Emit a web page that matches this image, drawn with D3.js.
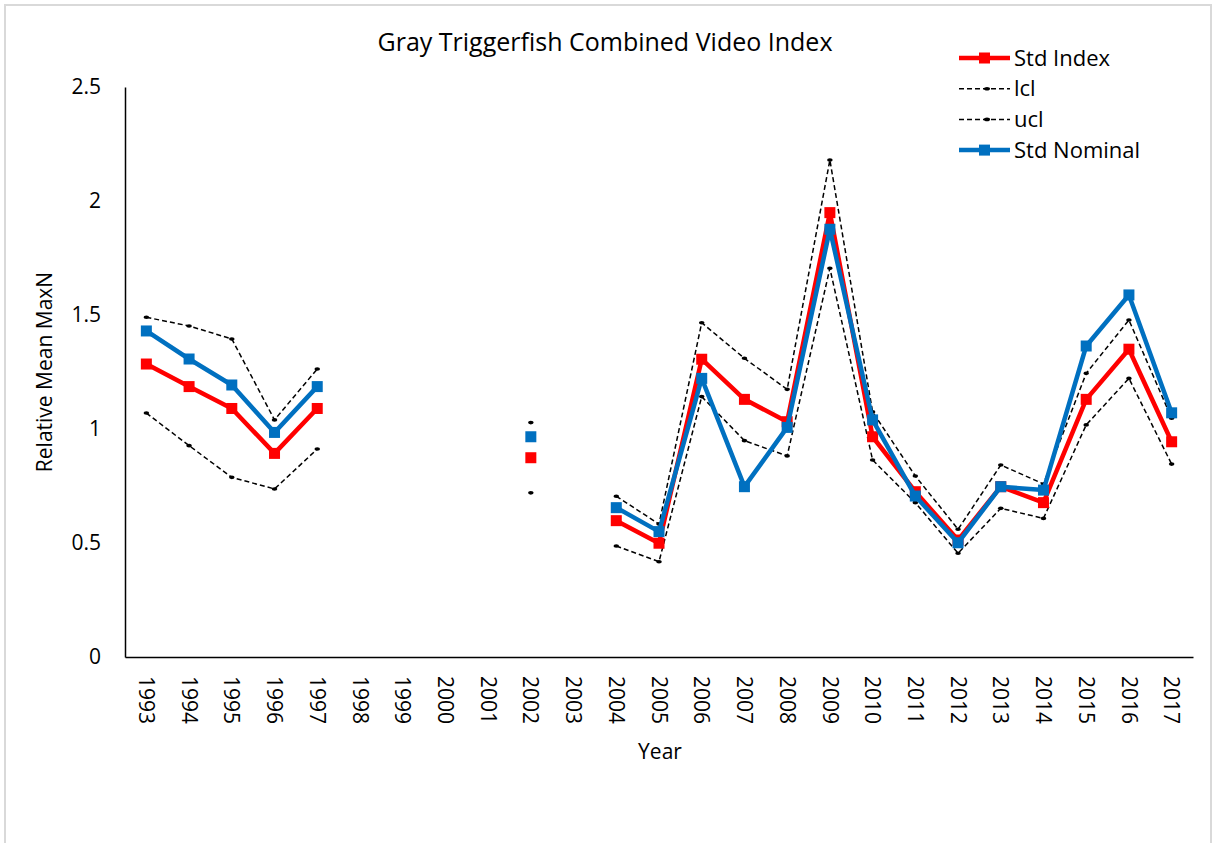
<!DOCTYPE html>
<html>
<head>
<meta charset="utf-8">
<script src="https://cdn.jsdelivr.net/npm/d3@7"></script>
<style>
  body { margin: 0; background: #fff; }
  text { font-family: "Open Sans", "Noto Sans", sans-serif; fill: #000; }
</style>
</head>
<body>
<svg id="chart" width="1215" height="843"></svg>
<script>
// years on the axis (1998-2001 and 2003 have no data)
var years = [1993,1994,1995,1996,1997,1998,1999,2000,2001,2002,2003,2004,2005,2006,2007,2008,2009,2010,2011,2012,2013,2014,2015,2016,2017];

// null = no survey that year
var stdIndex   = [1.285,1.186,1.09,0.893,1.09,null,null,null,null,0.874,null,0.598,0.499,1.306,1.13,1.032,1.949,0.966,0.725,0.513,0.747,0.677,1.13,1.35,0.944];
var lcl        = [1.07,0.927,0.788,0.737,0.912,null,null,null,null,0.72,null,0.487,0.418,1.142,0.949,0.882,1.705,0.864,0.677,0.455,0.652,0.608,1.018,1.222,0.846];
var ucl        = [1.49,1.452,1.395,1.04,1.263,null,null,null,null,1.028,null,0.705,0.583,1.466,1.31,1.174,2.18,1.075,0.794,0.56,0.842,0.759,1.244,1.478,1.047];
var stdNominal = [1.43,1.307,1.193,0.985,1.186,null,null,null,null,0.966,null,0.655,0.55,1.222,0.747,1.007,1.876,1.04,0.706,0.501,0.747,0.732,1.364,1.588,1.071];

var yTicks = [0,0.5,1,1.5,2,2.5];

const svg = d3.select("#chart");

// chart frame (excel chart area border)
svg.append("rect")
   .attr("x", 5).attr("y", 5)
   .attr("width", 1206).attr("height", 850)
   .attr("fill", "none")
   .attr("stroke", "#d9d9d9")
   .attr("stroke-width", 2)

const plotLeft = 125, plotRight = 1193, plotTop = 87, plotBottom = 657;

const x = d3.scaleBand()
   .domain(years)
   .range([plotLeft, plotRight])

const y = d3.scaleLinear()
   .domain([0, 2.5])
   .range([plotBottom, plotTop])

const cx = d => x(d) + x.bandwidth()/2;

// axes
const yAxis = svg.append("g")
   .attr("transform", `translate(${plotLeft},0)`)
   .call(d3.axisLeft(y).tickValues(yTicks).tickSize(0).tickPadding(24).tickFormat(d3.format("")))
yAxis.select(".domain").attr("stroke", "#000").attr("stroke-width", 1.5)
yAxis.selectAll("text").attr("font-size", 21).attr("font-family", "Open Sans")

const xAxis = svg.append("g")
   .attr("transform", `translate(0,${plotBottom})`)
   .call(d3.axisBottom(x).tickSize(0).tickFormat(d => d))
xAxis.select(".domain").attr("stroke", "#000").attr("stroke-width", 1.5)
xAxis.selectAll("text")
   .attr("font-size", 21)
   .attr("font-family", "Open Sans")
   .attr("transform", "rotate(90)")
   .attr("x", 19).attr("y", 0)
   .attr("dy", "0.35em")
   .attr("text-anchor", "start")

// titles
svg.append("text")
   .attr("x", 605).attr("y", 51)
   .attr("text-anchor", "middle")
   .attr("font-size", 25)
   .text("Gray Triggerfish Combined Video Index")

svg.append("text")
   .attr("x", 660).attr("y", 759)
   .attr("text-anchor", "middle")
   .attr("font-size", 21)
   .text("Year")

svg.append("text")
   .attr("transform", "translate(52,372) rotate(-90)")
   .attr("text-anchor", "middle")
   .attr("font-size", 21)
   .text("Relative Mean MaxN")

// series
const series = [
   {name: "lcl", values: lcl, color: "#000", width: 1.5, dash: "5,3", marker: "dot"},
   {name: "ucl", values: ucl, color: "#000", width: 1.5, dash: "5,3", marker: "dot"},
   {name: "Std Index", values: stdIndex, color: "#ff0000", width: 4.5, dash: null, marker: "square"},
   {name: "Std Nominal", values: stdNominal, color: "#0070c0", width: 4.5, dash: null, marker: "square"}
]

const line = d3.line()
   .defined(d => d.v != null)
   .x(d => cx(d.year))
   .y(d => y(d.v))

series.forEach(s => {
   const pts = years.map((yr, i) => ({year: yr, v: s.values[i]}))
   svg.append("path")
      .datum(pts)
      .attr("fill", "none")
      .attr("stroke", s.color)
      .attr("stroke-width", s.width)
      .attr("stroke-dasharray", s.dash)
      .attr("stroke-linejoin", "round")
      .attr("d", line)

   const valid = pts.filter(d => d.v != null)
   if(s.marker == "square"){
      svg.append("g").selectAll("rect")
         .data(valid)
         .enter().append("rect")
            .attr("x", d => cx(d.year) - 5.5)
            .attr("y", d => y(d.v) - 5.5)
            .attr("width", 11).attr("height", 11)
            .attr("fill", s.color)
   } else {
      svg.append("g").selectAll("ellipse")
         .data(valid)
         .enter().append("ellipse")
            .attr("cx", d => cx(d.year))
            .attr("cy", d => y(d.v))
            .attr("rx", 2.8).attr("ry", 1.8)
            .attr("fill", s.color)
   }
})

// legend
const legendItems = [series[2], series[0], series[1], series[3]]
const legend = svg.append("g")
legendItems.forEach((s, i) => {
   const ly = 58 + i*30.7
   legend.append("line")
      .attr("x1", 959).attr("x2", 1010)
      .attr("y1", ly).attr("y2", ly)
      .attr("stroke", s.color)
      .attr("stroke-width", s.width)
      .attr("stroke-dasharray", s.dash)
   if(s.marker == "square"){
      legend.append("rect")
         .attr("x", 979).attr("y", ly - 5.5)
         .attr("width", 11).attr("height", 11)
         .attr("fill", s.color)
   } else {
      legend.append("ellipse")
         .attr("cx", 987).attr("cy", ly)
         .attr("rx", 3).attr("ry", 1.8)
         .attr("fill", s.color)
   }
   legend.append("text")
      .attr("x", 1014).attr("y", ly)
      .attr("dy", "0.35em")
      .attr("font-size", 22)
      .text(s.name)
})
</script>
</body>
</html>
